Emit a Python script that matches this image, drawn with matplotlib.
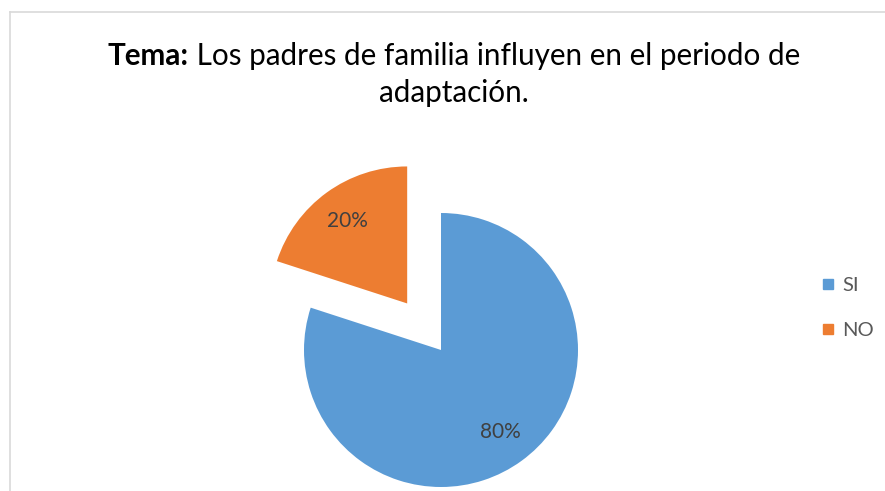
import matplotlib.pyplot as plt
from matplotlib.lines import Line2D

# datos
etiquetas = ['SI', 'NO']
valores = [80, 20]
colores = ['#5B9BD5', '#ED7D31']

plt.rcParams['font.family'] = ['Lato', 'DejaVu Sans']

fig = plt.figure(figsize=(8.85, 4.91), dpi=100)
ax = fig.add_axes([0, 0, 1, 1])

wedges, textos, pct = ax.pie(valores, colors=colores, startangle=90, counterclock=False,
                             explode=[0, 0.42], autopct='%1.0f%%', pctdistance=0.74,
                             textprops={'fontsize': 15, 'color': '#404040'})
for t in textos:
    t.set_visible(False)

# centro del pastel en (441, 350) px, radio 137 px
r = 137.0
cx, cy = 441, 350
ax.set_xlim(-cx / r, (885 - cx) / r)
ax.set_ylim(-(491 - cy) / r, cy / r)
ax.axis('off')

# borde del grafico
fig.add_artist(Line2D([9.5 / 885, 9.5 / 885], [0, 1 - 12 / 491], color='#D9D9D9', lw=1.2))
fig.add_artist(Line2D([9.5 / 885, 1], [1 - 12 / 491, 1 - 12 / 491], color='#D9D9D9', lw=1.2))

# titulo
fs_tit = 21.3
parte1 = 'Tema:'
parte2 = ' Los padres de familia influyen en el periodo de'
r_ = fig.canvas.get_renderer()
t1 = fig.text(0, 0, parte1, fontsize=fs_tit, fontweight='bold')
t2 = fig.text(0, 0, parte2, fontsize=fs_tit)
w1 = t1.get_window_extent(r_).width
w2 = t2.get_window_extent(r_).width
x0 = 454 - (w1 + w2) / 2
t1.set_position((x0 / 885, 1 - 56 / 491))
t1.set_va('center')
t2.set_position(((x0 + w1) / 885, 1 - 56 / 491))
t2.set_va('center')
fig.text(454 / 885, 1 - 93 / 491, 'adaptación.', fontsize=fs_tit, ha='center', va='center')

# leyenda
manejadores = [Line2D([], [], marker='s', ls='none', color=c, markersize=7) for c in colores]
fig.legend(manejadores, etiquetas, loc='center left', bbox_to_anchor=(802 / 885, 1 - 308 / 491),
           frameon=False, fontsize=14.5, labelcolor='#595959', handlelength=0.8,
           handletextpad=0.3, labelspacing=1.4)

fig.savefig('out.png', dpi=100)
